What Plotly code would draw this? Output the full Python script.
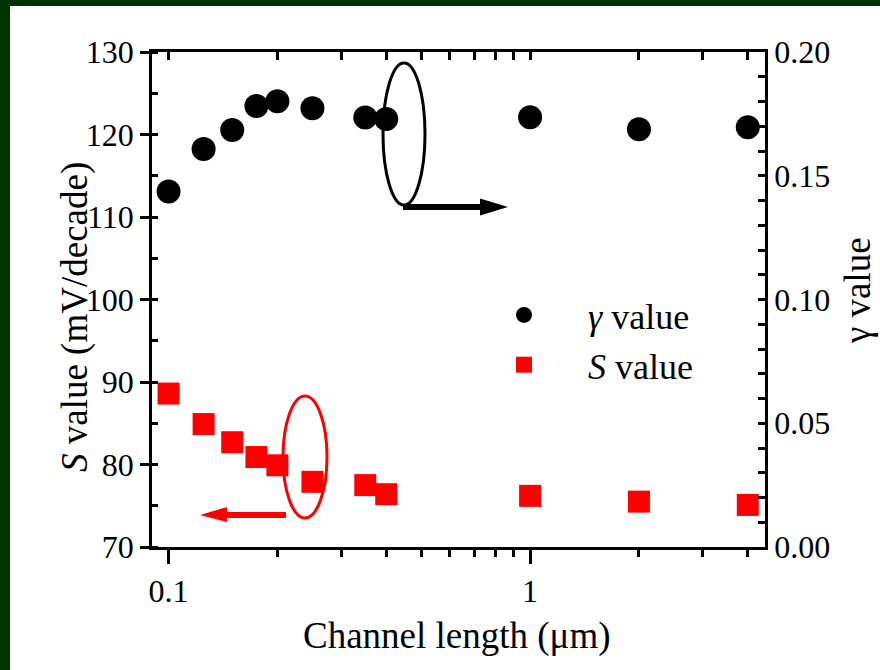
import plotly.graph_objects as go

# ---------------- data ----------------
channel_length = [0.1, 0.125, 0.15, 0.175, 0.2, 0.25, 0.35, 0.4, 1, 2, 4]
gamma_value = [0.1436, 0.1608, 0.1685, 0.1782, 0.1801, 0.1773, 0.1735, 0.1729, 0.1736, 0.1688, 0.1696]
s_value = [88.6, 84.9, 82.7, 80.9, 79.9, 77.9, 77.5, 76.4, 76.2, 75.5, 75.1]

x_major = [0.1, 1]
x_major_text = ["0.1", "1"]
x_minor = [0.2, 0.3, 0.4, 0.5, 0.6, 0.7, 0.8, 0.9, 2, 3, 4]

# ---------------- layout geometry ----------------
W, H = 880, 670
L, R, T, B = 152, 765, 52, 547  # plot area in pixels
PW, PH = R - L, B - T

def px(x):
    return (x - L) / PW

def py(y):
    return (B - y) / PH

FONT = "Liberation Serif, Times New Roman, Times, serif"
BG = "#013301"

fig = go.Figure()

fig.add_trace(go.Scatter(
    x=channel_length, y=gamma_value, mode="markers", name="<i>γ</i> value",
    marker=dict(symbol="circle", size=24, color="black"),
    yaxis="y2", xaxis="x",
))
fig.add_trace(go.Scatter(
    x=channel_length, y=s_value, mode="markers", name="<i>S</i> value",
    marker=dict(symbol="square", size=22, color="#ff0000"),
    yaxis="y", xaxis="x",
))
# empty trace to make the mirrored top axis render
fig.add_trace(go.Scatter(x=[], y=[], xaxis="x2", yaxis="y", showlegend=False, hoverinfo="skip"))

xr = [-1.0458, 0.6497]
axis_common = dict(showgrid=False, zeroline=False, showline=True, linecolor="black",
                   linewidth=2.5, tickcolor="black", tickwidth=2.5)

shapes = [
    dict(type="rect", xref="paper", yref="paper", layer="below",
         x0=px(10), x1=px(900), y0=py(700), y1=py(6),
         fillcolor="white", line=dict(width=0)),
    # black ellipse + arrow (gamma -> right axis)
    dict(type="circle", xref="paper", yref="paper",
         x0=px(383), x1=px(425), y0=py(205), y1=py(63),
         line=dict(color="black", width=3)),
    dict(type="line", xref="paper", yref="paper",
         x0=px(403), x1=px(484), y0=py(207), y1=py(207),
         line=dict(color="black", width=6)),
    dict(type="path", xref="paper", yref="paper",
         path=f"M{px(480)},{py(198.5)} L{px(508)},{py(207)} L{px(480)},{py(215.5)} Z",
         fillcolor="black", line=dict(width=0)),
    # red ellipse + arrow (S -> left axis)
    dict(type="circle", xref="paper", yref="paper",
         x0=px(283), x1=px(327), y0=py(518), y1=py(396),
         line=dict(color="#ff0000", width=3)),
    dict(type="line", xref="paper", yref="paper",
         x0=px(224), x1=px(286), y0=py(515), y1=py(515),
         line=dict(color="#ff0000", width=6)),
    dict(type="path", xref="paper", yref="paper",
         path=f"M{px(227)},{py(507)} L{px(200)},{py(515)} L{px(227)},{py(522)} Z",
         fillcolor="#ff0000", line=dict(width=0)),
]

annotations = [
    dict(text="Channel length (μm)", xref="paper", yref="paper",
         x=px(457), y=py(636), xanchor="center", yanchor="middle", showarrow=False,
         font=dict(family=FONT, size=37, color="black")),
    dict(text="<i>S</i> value (mV/decade)", xref="paper", yref="paper", textangle=-90,
         x=px(75), y=py(317), xanchor="center", yanchor="middle", showarrow=False,
         font=dict(family=FONT, size=37, color="black")),
    dict(text="γ value", xref="paper", yref="paper", textangle=-90,
         x=px(857), y=py(291), xanchor="center", yanchor="middle", showarrow=False,
         font=dict(family=FONT, size=37, color="black")),
]

fig.update_layout(
    width=W, height=H,
    margin=dict(l=L, r=W - R, t=T, b=H - B, autoexpand=False),
    paper_bgcolor=BG, plot_bgcolor="white",
    font=dict(family=FONT, size=32, color="black"),
    showlegend=True,
    legend=dict(x=px(460), y=py(285), xanchor="left", yanchor="top",
                bgcolor="rgba(0,0,0,0)", itemwidth=118,
                font=dict(family=FONT, size=36, color="black")),
    xaxis=dict(type="log", range=xr, ticks="outside", ticklen=14,
               tickvals=x_major, ticktext=x_major_text, ticklabelstandoff=0,
               minor=dict(tickvals=x_minor, ticks="outside", ticklen=7,
                          tickcolor="black", tickwidth=2.5),
               tickfont=dict(family=FONT, size=32), **axis_common),
    xaxis2=dict(type="log", range=xr, overlaying="x", side="top", anchor="y",
                ticks="inside", ticklen=8, tickvals=x_major, showticklabels=False,
                minor=dict(tickvals=x_minor, ticks="inside", ticklen=8,
                           tickcolor="black", tickwidth=2.5),
                **axis_common),
    yaxis=dict(range=[70, 130], dtick=10, tick0=70, ticks="outside", ticklen=9,
               minor=dict(dtick=5, ticks="inside", ticklen=6,
                          tickcolor="black", tickwidth=2.5),
               tickfont=dict(family=FONT, size=32), **axis_common),
    yaxis2=dict(range=[0, 0.2], dtick=0.05, tick0=0, tickformat=".2f",
                overlaying="y", side="right", anchor="x",
                ticks="inside", ticklen=7,
                minor=dict(dtick=0.01, ticks="inside", ticklen=7,
                           tickcolor="black", tickwidth=2.5),
                tickfont=dict(family=FONT, size=32), **axis_common),
    shapes=shapes,
    annotations=annotations,
)

fig.write_html("out.html")
